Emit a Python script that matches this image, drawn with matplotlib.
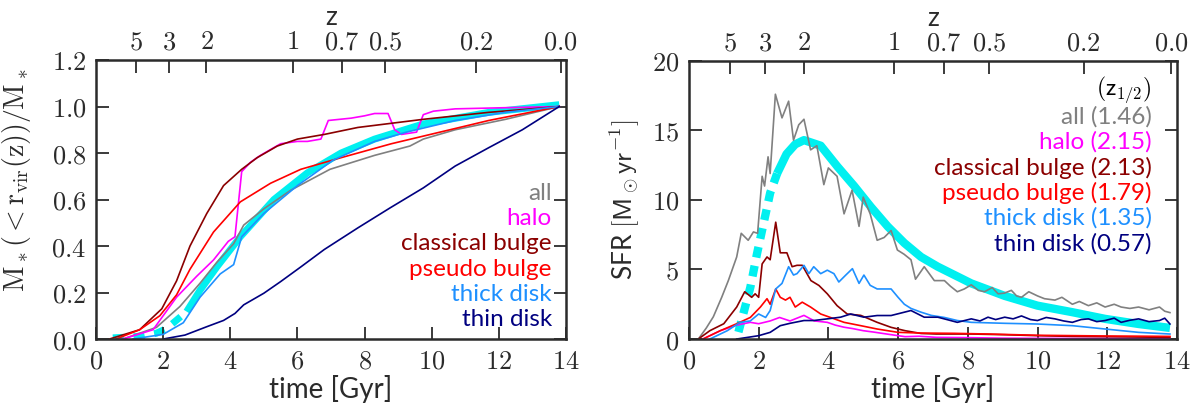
import numpy as np
import matplotlib
matplotlib.use("Agg")
import matplotlib.pyplot as plt
from matplotlib.ticker import FuncFormatter

plt.rcParams['font.family'] = ['Lato', 'DejaVu Sans']
plt.rcParams['mathtext.fontset'] = 'cm'

# redshift ticks on top, placed at cosmic time [Gyr]
z_labels = ['5', '3', '2', '1', '0.7', '0.5', '0.2', '0.0']
z_times = [1.19, 2.17, 3.29, 5.87, 7.32, 8.62, 11.32, 13.84]

names = ['all', 'halo', 'classical bulge', 'pseudo bulge', 'thick disk', 'thin disk']
colors = ['gray', '#ff00ff', '#8b0000', '#ff0000', '#1e90ff', '#000080']
z_half = ['1.46', '2.15', '2.13', '1.79', '1.35', '0.57']

# cumulative stellar mass fraction (left)
t_all_c = [0.8, 1.8, 2.5, 3.1, 3.6, 4.1, 4.4, 5.0, 5.8, 6.97, 8.3, 9.35, 9.75, 10.7, 12.2, 13.8]
m_all_c = [0.0, 0.05, 0.14, 0.24, 0.33, 0.41, 0.49, 0.56, 0.64, 0.73, 0.79, 0.83, 0.86, 0.90, 0.945, 1.0]

t_halo_c = [0.8, 1.7, 2.4, 3.0, 3.5, 3.94, 4.14, 4.34, 4.6, 4.9, 5.5, 6.0, 6.3, 6.7, 6.92, 7.6, 8.0,
            8.3, 8.7, 8.9, 9.1, 9.55, 9.75, 10.05, 10.7, 12.2, 13.8]
m_halo_c = [0.0, 0.04, 0.18, 0.27, 0.34, 0.42, 0.44, 0.72, 0.76, 0.79, 0.84, 0.85, 0.85, 0.86, 0.94, 0.95, 0.96,
            0.97, 0.97, 0.90, 0.88, 0.89, 0.965, 0.98, 0.99, 0.995, 1.0]

t_cb_c = [0.4, 1.3, 1.96, 2.4, 2.8, 3.3, 3.8, 4.34, 4.8, 5.4, 6.0, 6.8, 7.8, 9.75, 11.7, 13.8]
m_cb_c = [0.0, 0.04, 0.13, 0.25, 0.40, 0.54, 0.66, 0.73, 0.78, 0.83, 0.86, 0.88, 0.91, 0.945, 0.975, 1.0]

t_pb_c = [0.6, 1.3, 1.9, 2.4, 2.8, 3.5, 4.3, 5.2, 6.1, 7.3, 8.8, 10.25, 11.7, 13.8]
m_pb_c = [0.0, 0.04, 0.10, 0.19, 0.30, 0.46, 0.59, 0.67, 0.73, 0.78, 0.84, 0.89, 0.94, 1.0]

t_thick_c = [1.1, 2.0, 2.6, 3.1, 3.7, 4.1, 4.34, 5.0, 6.0, 7.07, 8.3, 9.25, 10.7, 12.2, 13.8]
m_thick_c = [0.0, 0.02, 0.07, 0.18, 0.28, 0.32, 0.44, 0.54, 0.66, 0.77, 0.85, 0.89, 0.94, 0.975, 1.0]

t_thin_c = [2.0, 2.65, 3.3, 3.8, 4.14, 4.4, 5.0, 5.5, 6.1, 6.8, 7.8, 8.76, 9.75, 10.7, 11.7, 12.7, 13.8]
m_thin_c = [0.0, 0.017, 0.053, 0.08, 0.11, 0.147, 0.197, 0.247, 0.31, 0.385, 0.478, 0.564, 0.65, 0.744, 0.823, 0.90, 1.0]

t_fit_c_early = [0.5, 0.9, 1.4, 1.8, 2.1, 2.35, 2.7]
m_fit_c_early = [0.005, 0.008, 0.013, 0.025, 0.045, 0.075, 0.118]
t_fit_c = [2.7, 3.1, 3.6, 4.3, 5.3, 6.3, 7.3, 8.3, 9.75, 11.7, 13.8]
m_fit_c = [0.118, 0.21, 0.31, 0.44, 0.60, 0.715, 0.80, 0.86, 0.925, 0.975, 1.008]

# star formation histories (right)
t_all_s = [0.27, 0.5, 0.7, 0.94, 1.13, 1.37, 1.5, 1.7, 1.85, 1.97, 2.1, 2.17, 2.27, 2.33, 2.48, 2.67, 2.86,
           3.0, 3.15, 3.3, 3.49, 3.67, 3.87, 4.0, 4.25, 4.45, 4.68, 4.88, 5.0, 5.2, 5.4, 5.6, 5.8, 5.98,
           6.17, 6.37, 6.5, 6.75, 7.04, 7.33, 7.5, 7.7, 7.9, 8.1, 8.3, 8.48, 8.7, 8.87, 9.05, 9.25, 9.4,
           9.54, 9.75, 10.0, 10.2, 10.5, 10.7, 11.0, 11.2, 11.46, 11.7, 11.94, 12.2, 12.4, 12.65, 12.9,
           13.2, 13.5, 13.65, 13.8]
s_all_s = [0.0, 0.8, 1.6, 3.0, 4.2, 5.9, 7.6, 7.1, 7.7, 7.6, 11.7, 11.0, 13.1, 11.9, 17.6, 15.9, 17.1,
           14.3, 15.4, 15.8, 13.6, 13.9, 11.1, 12.3, 11.7, 9.0, 10.7, 8.1, 10.2, 9.0, 7.1, 7.3, 7.8, 6.4,
           6.1, 5.7, 4.3, 5.2, 4.2, 4.2, 3.8, 3.4, 3.6, 3.9, 3.5, 3.4, 3.7, 3.25, 3.3, 3.5, 3.1,
           3.0, 3.4, 3.1, 2.9, 2.8, 3.0, 2.5, 2.7, 2.4, 2.6, 2.3, 2.5, 2.3, 2.2, 2.3,
           2.1, 2.3, 2.0, 1.9]

t_halo_s = [0.4, 0.9, 1.37, 1.76, 2.0, 2.33, 2.6, 2.9, 3.3, 3.6, 3.97, 4.2, 4.45, 4.7, 5.0, 5.3, 5.7,
            6.2, 6.6, 7.1, 8.0, 9.0, 10.0, 11.0, 12.0, 13.0, 13.8]
s_halo_s = [0.0, 0.6, 1.0, 1.2, 1.1, 1.3, 1.55, 1.3, 1.7, 1.3, 1.2, 1.0, 0.85, 0.75, 0.6, 0.5, 0.35,
            0.17, 0.2, 0.12, 0.1, 0.06, 0.05, 0.04, 0.04, 0.03, 0.03]

t_cb_s = [0.27, 0.6, 1.0, 1.37, 1.6, 1.8, 1.9, 2.0, 2.1, 2.24, 2.33, 2.49, 2.62, 2.81, 2.96, 3.1, 3.25,
          3.5, 3.73, 3.97, 4.25, 4.54, 4.93, 5.4, 5.8, 6.2, 6.66, 7.1, 8.1, 9.06, 10.0, 11.0, 11.9, 13.8]
s_cb_s = [0.0, 0.6, 1.1, 2.3, 3.4, 3.0, 3.25, 3.0, 5.4, 5.9, 5.7, 8.4, 6.2, 6.2, 5.2, 5.3, 5.3,
          4.2, 3.85, 3.25, 2.4, 1.8, 1.7, 1.2, 0.84, 0.6, 0.4, 0.36, 0.36, 0.31, 0.24, 0.19, 0.17, 0.12]

t_pb_s = [0.4, 0.9, 1.37, 1.76, 2.05, 2.24, 2.33, 2.49, 2.62, 2.77, 2.9, 3.05, 3.25, 3.49, 3.78, 4.06,
          4.45, 4.93, 5.4, 6.0, 6.66, 7.6, 8.6, 10.0, 11.94, 13.8]
s_pb_s = [0.0, 0.6, 1.1, 1.55, 2.3, 2.9, 2.5, 3.6, 3.0, 2.8, 3.0, 2.3, 2.65, 2.3, 1.8, 1.55,
          1.2, 0.96, 0.72, 0.48, 0.43, 0.41, 0.36, 0.27, 0.22, 0.19]

t_thick_s = [0.6, 1.1, 1.47, 1.76, 2.0, 2.2, 2.33, 2.49, 2.67, 2.86, 3.0, 3.1, 3.3, 3.44, 3.58, 3.78,
             3.97, 4.16, 4.3, 4.5, 4.69, 4.88, 5.02, 5.2, 5.4, 5.8, 6.0, 6.18, 6.37, 6.66, 6.95, 7.33,
             7.7, 8.1, 9.06, 10.0, 11.0, 11.94, 12.9, 13.8]
s_thick_s = [0.0, 0.6, 1.2, 1.3, 1.8, 1.55, 2.05, 3.6, 4.0, 5.2, 4.6, 4.7, 5.3, 4.7, 5.2, 4.7,
             4.95, 4.7, 4.1, 4.6, 5.06, 4.0, 4.6, 3.86, 3.6, 3.6, 3.0, 2.5, 2.2, 1.93, 1.7, 1.55,
             1.33, 1.2, 1.13, 1.08, 0.96, 0.72, 0.48, 0.36]

t_thin_s = [1.37, 2.0, 2.33, 2.62, 2.9, 3.3, 3.58, 3.97, 4.35, 4.64, 5.02, 5.4, 5.8, 6.18, 6.37, 6.75,
            7.14, 7.4, 7.7, 8.1, 8.35, 8.58, 8.8, 9.06, 9.3, 9.54, 9.8, 10.0, 10.25, 10.5, 10.75, 11.0,
            11.25, 11.46, 11.7, 11.94, 12.2, 12.4, 12.65, 12.9, 13.2, 13.5, 13.65, 13.8]
s_thin_s = [0.0, 0.24, 0.48, 0.96, 1.13, 1.33, 1.33, 1.45, 1.57, 1.8, 1.57, 1.69, 1.69, 1.93, 2.05, 1.57,
            1.57, 1.4, 1.2, 1.45, 1.3, 1.57, 1.4, 1.57, 1.45, 1.66, 1.4, 1.33, 1.55, 1.45, 1.3, 1.2,
            1.4, 1.45, 1.25, 1.33, 1.5, 1.2, 1.35, 1.45, 1.25, 1.33, 1.5, 1.08]

t_fit_s_early = [1.42, 1.76, 1.95, 2.14, 2.33, 2.53]
s_fit_s_early = [0.5, 3.7, 6.1, 8.3, 10.5, 11.9]
t_fit_s = [2.53, 2.8, 3.05, 3.3, 3.78, 4.26, 4.74, 5.22, 5.7, 6.18, 6.66, 7.14, 8.1, 9.06, 10.0, 11.0, 11.94, 12.9, 13.8]
s_fit_s = [11.9, 13.3, 14.0, 14.3, 13.9, 12.4, 11.0, 9.5, 8.1, 6.9, 5.9, 5.2, 4.0, 3.1, 2.4, 1.93, 1.45, 1.08, 0.8]

cum_t = [t_all_c, t_halo_c, t_cb_c, t_pb_c, t_thick_c, t_thin_c]
cum_m = [m_all_c, m_halo_c, m_cb_c, m_pb_c, m_thick_c, m_thin_c]
sfr_t = [t_all_s, t_halo_s, t_cb_s, t_pb_s, t_thick_s, t_thin_s]
sfr_s = [s_all_s, s_halo_s, s_cb_s, s_pb_s, s_thick_s, s_thin_s]

fig = plt.figure(figsize=(11.94, 4.07), dpi=100)
ax1 = fig.add_axes([0.0804, 0.167, 0.3936, 0.6855])
ax2 = fig.add_axes([0.577, 0.167, 0.4087, 0.6835])

dark = '#2b2b2b'
fit_col = '#00f0f0'


def style(ax, ymax, yfmt):
    ax.set_xlim(0, 14)
    ax.set_ylim(0, ymax)
    ax.set_xticks(np.arange(0, 15, 2))
    ax.xaxis.set_major_formatter(FuncFormatter(lambda v, p: '$%d$' % v))
    ax.yaxis.set_major_formatter(FuncFormatter(yfmt))
    ax.tick_params(direction='in', length=9, width=1.3, color=dark, labelcolor=dark,
                   labelsize=19, right=True, top=False, pad=7)
    for s in ax.spines.values():
        s.set_linewidth(1.8)
        s.set_color(dark)
    ax.set_xlabel('time [Gyr]', fontsize=20, color=dark, labelpad=1)
    top = ax.twiny()
    top.set_xlim(0, 14)
    top.set_xticks(z_times)
    top.set_xticklabels(['$%s$' % s for s in z_labels])
    top.tick_params(direction='in', length=9, width=1.3, color=dark, labelcolor=dark,
                    labelsize=19, pad=4)
    for s in top.spines.values():
        s.set_visible(False)
    top.set_xlabel('z', fontsize=19, color=dark, labelpad=3)


style(ax1, 1.2, lambda v, p: '$%.1f$' % v)
ax1.set_yticks(np.arange(0, 1.21, 0.2))
style(ax2, 20, lambda v, p: '$%d$' % v)
ax2.set_yticks(np.arange(0, 21, 5))

# model fit first, components on top
ax1.plot(t_fit_c_early, m_fit_c_early, color=fit_col, lw=5, dashes=(1.6, 1.4),
         dash_capstyle='butt', zorder=1)
ax1.plot(t_fit_c, m_fit_c, color=fit_col, lw=5, solid_capstyle='butt', zorder=1)
ax2.plot(t_fit_s_early, s_fit_s_early, color=fit_col, lw=6, dashes=(1.3, 1.0),
         dash_capstyle='butt', zorder=1)
ax2.plot(t_fit_s, s_fit_s, color=fit_col, lw=6, solid_capstyle='butt', zorder=1)

for t, m, c in zip(cum_t, cum_m, colors):
    ax1.plot(t, m, color=c, lw=1.2, zorder=2)
for t, s, c in zip(sfr_t, sfr_s, colors):
    ax2.plot(t, s, color=c, lw=1.2, zorder=2)

ax1.set_ylabel(r'$\mathrm{M_*(<r_{vir}(z))/M_*}$', fontsize=20, color=dark)
ax1.yaxis.set_label_coords(-0.135, 0.57)
ax2.set_ylabel(r'SFR $[\mathsf{M_\odot yr^{-1}}]$', fontsize=19, color=dark, labelpad=8)

# component labels
for i, (n, c) in enumerate(zip(names, colors)):
    ax1.text(13.58, 0.628 - i * 0.1092, n, color=c, fontsize=17.5, ha='right', va='center')

ax2.text(13.28, 17.9, r'$(\mathsf{z}_{1/2})$', color='black', fontsize=17, ha='right', va='center')
for i, (n, c, zh) in enumerate(zip(names, colors, z_half)):
    ax2.text(13.28, 15.97 - i * 1.822, '%s (%s)' % (n, zh), color=c, fontsize=17.5,
             ha='right', va='center')

fig.savefig('out.png', dpi=100)
